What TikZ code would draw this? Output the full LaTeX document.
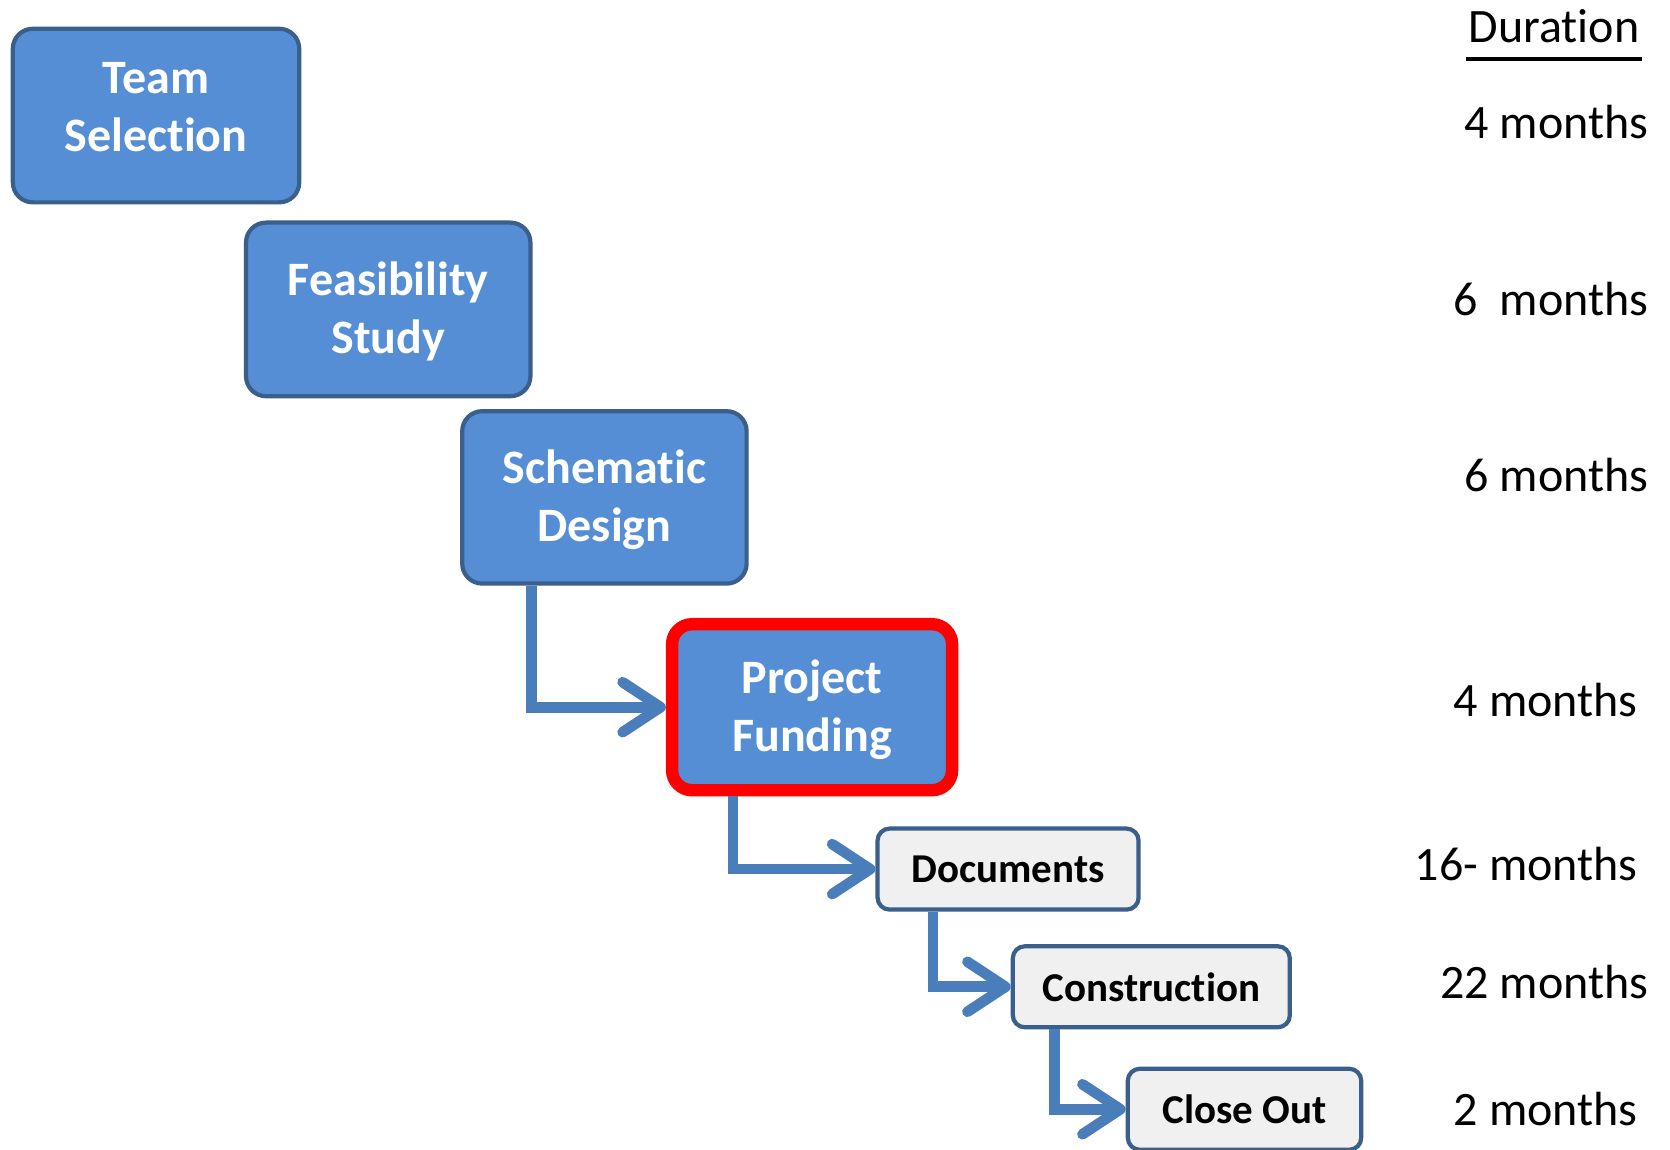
\documentclass[tikz,border=0pt]{standalone}
\usepackage{fontspec}
\setmainfont{Carlito}[RawFeature={-liga;-clig;-calt}]
\usetikzlibrary{arrows.meta}
\definecolor{boxblue}{HTML}{558ED5}
\definecolor{boxedge}{HTML}{3A5F8B}
\definecolor{flowblue}{HTML}{4A7EBB}
\definecolor{boxgray}{HTML}{F0F0F0}
\newcommand{\twoline}[3][-3.2pt]{\raisebox{0pt}[\height][\dimexpr\depth+#1\relax]{\begin{tabular}{@{}c@{}}#2\\#3\end{tabular}}}

\begin{document}
\begin{tikzpicture}[x=0.5325pt,y=-0.5325pt]
        \tikzstyle{phase}=[draw=boxedge,line width=2.1pt,rounded corners=10pt,fill=boxblue,text=white,font=\fontsize{24}{29}\selectfont\bfseries,inner sep=0pt]
        \tikzstyle{stage}=[draw=boxedge,line width=2.1pt,rounded corners=6pt,fill=boxgray,font=\fontsize{20.5}{24}\selectfont\bfseries,inner sep=0pt,minimum height=40.5pt]
        \tikzstyle{months}=[anchor=east,font=\fontsize{24}{29}\selectfont,inner sep=0pt]
        \tikzstyle{flow}=[draw=flowblue,line width=5.3pt,-{Straight Barb[length=19pt,width=25pt,round]}]
        \useasboundingbox[fill=white] (0,0) rectangle (1568,1079);
        % phases
        \node[phase,minimum width=143.2pt,minimum height=86.8pt] (ts) at (146.5,108.5) {\twoline[4.8pt]{Team}{Selection}};
        \node[phase,minimum width=142.2pt,minimum height=86.8pt] (fs) at (364.5,290.5) {\twoline{Feasibility}{Study}};
        \node[phase,minimum width=142.2pt,minimum height=86.2pt] (sd) at (567.5,467) {\twoline{Schematic}{Design}};
        \node[phase,draw=red,line width=6.2pt,minimum width=140pt,minimum height=83pt] (pf) at (762.5,664) {\twoline{Project}{Funding}};
        \node[stage,minimum width=130.5pt] (doc) at (946.5,816) {Documents};
        \node[stage,minimum width=138.5pt] (con) at (1081,926.5) {Construction};
        \node[stage,minimum width=116.7pt] (co) at (1168.5,1041.5) {Close Out};
        % connectors
        \draw[flow] (sd.south west) ++(67,0) |- (pf.west);
        \draw[flow] (pf.south west) ++(63,0) |- (doc.west);
        \draw[flow] (doc.south west) ++(54,0) |- (con.west);
        \draw[flow] (con.south west) ++(41,0) |- (co.west);
        % durations
        \node[font=\fontsize{24}{29}\selectfont,inner xsep=1pt] (dur) at (1459,25) {Duration};
        \draw[line width=1.6pt] ([yshift=-8pt]dur.base west) -- ([yshift=-8pt]dur.base east);
        \node[months] (d1) at (1548,115) {4 months};
        \node[months] (d2) at (1548,281) {6~~months};
        \node[months] (d3) at (1548,446) {6 months};
        \node[months] (d4) at (1538,657) {4 months};
        \node[months] (d5) at (1538,811) {16- months};
        \node[months] (d6) at (1548,922) {22 months};
        \node[months] (d7) at (1538,1041) {2 months};
\end{tikzpicture}
\end{document}
